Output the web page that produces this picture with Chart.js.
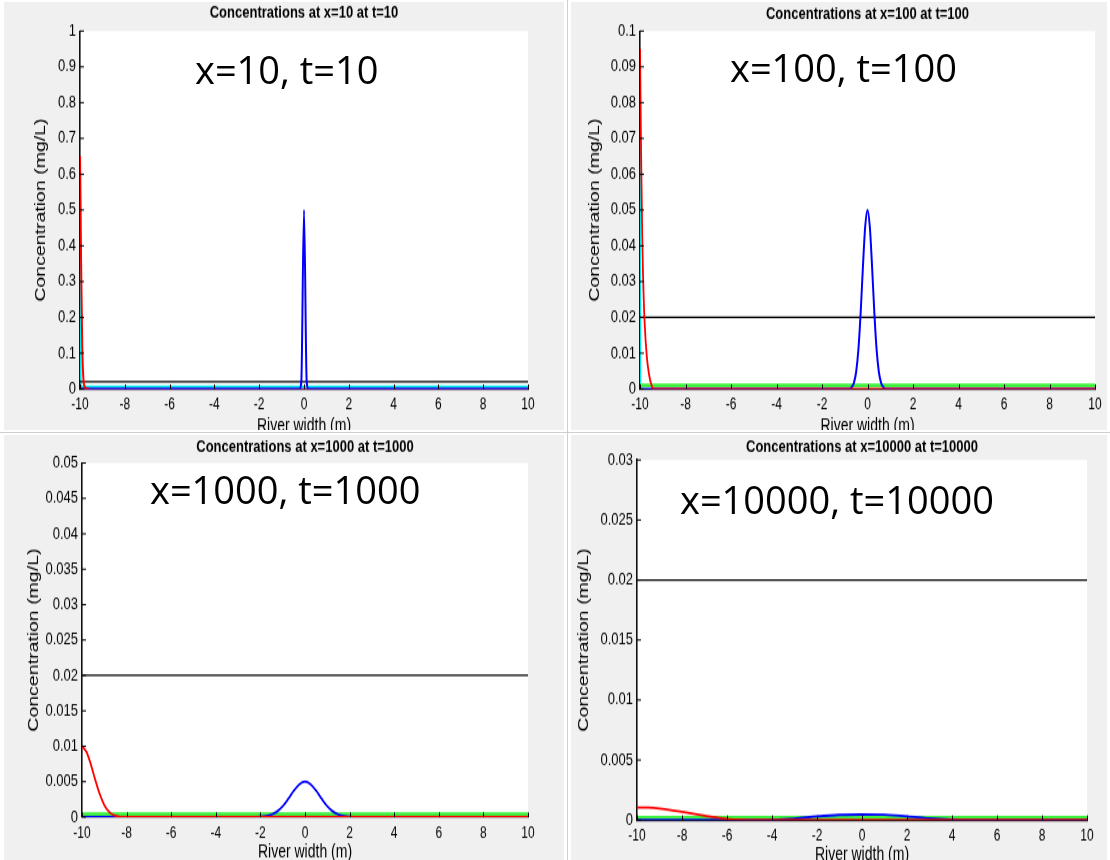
<!DOCTYPE html>
<html>
<head>
<meta charset="utf-8">
<script src="https://cdn.jsdelivr.net/npm/chart.js@4"></script>
<style>
  body { margin: 0; width: 1110px; height: 860px; background: #fff; position: relative; overflow: hidden; }
  .fig { position: absolute; background: #f0f0f0; overflow: hidden; }
  .fig canvas { position: absolute; left: 0; top: 0; transform-origin: 0 0; }
  .note { position: absolute; font-family: "Open Sans", sans-serif; font-size: 38px; line-height: 38px; color: #000; white-space: nowrap; }
  .vsep { position: absolute; left: 567px; top: 0; width: 1px; height: 860px; background: #cfcfcf; }
  .hsep { position: absolute; left: 0; top: 432px; width: 1110px; height: 1px; background: #cfcfcf; }
</style>
</head>
<body>
<div class="vsep"></div>
<div class="hsep"></div>
<div class="fig" id="figA"><canvas id="chartA"></canvas></div>
<div class="fig" id="figB"><canvas id="chartB"></canvas></div>
<div class="fig" id="figC"><canvas id="chartC"></canvas></div>
<div class="fig" id="figD"><canvas id="chartD"></canvas></div>
<div class="note" id="noteA"></div>
<div class="note" id="noteB"></div>
<div class="note" id="noteC"></div>
<div class="note" id="noteD"></div>
<script>
// ---- data ----
const xTicks = [-10, -8, -6, -4, -2, 0, 2, 4, 6, 8, 10];
const yTicksA = [0, 0.1, 0.2, 0.3, 0.4, 0.5, 0.6, 0.7, 0.8, 0.9, 1];
const yTicksB = [0, 0.01, 0.02, 0.03, 0.04, 0.05, 0.06, 0.07, 0.08, 0.09, 0.1];
const yTicksC = [0, 0.005, 0.01, 0.015, 0.02, 0.025, 0.03, 0.035, 0.04, 0.045, 0.05];
const yTicksD = [0, 0.005, 0.01, 0.015, 0.02, 0.025, 0.03];

const titles = [
  "Concentrations at x=10 at t=10",
  "Concentrations at x=100 at t=100",
  "Concentrations at x=1000 at t=1000",
  "Concentrations at x=10000 at t=10000"
];
const notes = ["x=10, t=10", "x=100, t=100", "x=1000, t=1000", "x=10000, t=10000"];
const xLabel = "River width (m)";
const yLabel = "Concentration (mg/L)";

// black standard line
const limitX = [-10, 10];
const limitY = [0.02, 0.02];

// x=10, t=10
const redXA = [-10, -9.95, -9.9, -9.85, -9.8, -9.7, -9.6];
const redYA = [0.65, 0.35, 0.12, 0.03, 0.008, 0.001, 0];
const blueXA = [-10, -0.2, -0.12, 0, 0.12, 0.2, 10];
const blueYA = [0, 0, 0.02, 0.5, 0.02, 0, 0];
const cyanXA = [-10, -9.97, 10];
const cyanYA = [0.6, 0.006, 0.006];
const magentaXA = [-10, 10];
const magentaYA = [0, 0];

// x=100, t=100
const redXB = [-10, -9.95, -9.9, -9.85, -9.8, -9.7, -9.6, -9.5, -9.4, 10];
const redYB = [0.095, 0.065, 0.042, 0.028, 0.019, 0.009, 0.004, 0.0012, 0, 0];
const blueXB = [-10, -0.8, -0.7, -0.6, -0.5, -0.4, -0.3, -0.2, -0.1, 0, 0.1, 0.2, 0.3, 0.4, 0.5, 0.6, 0.7, 0.8, 10];
const blueYB = [0, 0, 0.0005, 0.0017, 0.0047, 0.011, 0.0214, 0.0343, 0.0455, 0.05, 0.0455, 0.0343, 0.0214, 0.011, 0.0047, 0.0017, 0.0005, 0, 0];
const cyanXB = [-10, -9.98];
const cyanYB = [0.08, 0];
const greenXB = [-10, 10];
const greenYB = [0.001, 0.001];

// x=1000, t=1000
const redXC = [-10, -9.8, -9.6, -9.4, -9.2, -9, -8.8, -8.6, -8.4, -8.2, 10];
const redYC = [0.01, 0.0092, 0.0074, 0.0052, 0.0032, 0.0017, 0.0008, 0.0003, 0.0001, 0, 0];
const blueXC = [-10, -2.25, -2, -1.75, -1.5, -1.25, -1, -0.75, -0.5, -0.25, 0, 0.25, 0.5, 0.75, 1, 1.25, 1.5, 1.75, 2, 2.25, 10];
const blueYC = [0, 0, 0.00004, 0.00013, 0.00035, 0.00079, 0.00153, 0.00257, 0.00372, 0.00464, 0.005, 0.00464, 0.00372, 0.00257, 0.00153, 0.00079, 0.00035, 0.00013, 0.00004, 0, 0];
const greenXC = [-10, 10];
const greenYC = [0.0004, 0.0004];

// x=10000, t=10000
const redXD = [-10, -9.5, -9, -8.5, -8, -7.5, -7, -6.5, -6, -5.5, -5, -4, 10];
const redYD = [0.00105, 0.00103, 0.00095, 0.00083, 0.00068, 0.00052, 0.00037, 0.00022, 0.0001, 0.00004, 0.00001, 0, 0];
const blueXD = [-10, -5, -4, -3, -2, -1, 0, 1, 2, 3, 4, 5, 10];
const blueYD = [0, 0, 0.00002, 0.00012, 0.0003, 0.00043, 0.00046, 0.00044, 0.00032, 0.00014, 0.00003, 0, 0];
const greenXD = [-10, 10];
const greenYD = [0.0002, 0.0002];

// ---- layout (page pixels) ----
// the source figures were stretched vertically, so each canvas is drawn short and scaled in y
const STRETCH = 1.3;
const layoutA = { box: [4, 2, 560, 428], plot: [80, 31, 528, 389], titleY: 13, yTitleX: 41, xLab: 16, xTitle: 37, note: [195, 50] };
const layoutB = { box: [571, 2, 536, 428], plot: [640, 31, 1095, 389], titleY: 14, yTitleX: 595, xLab: 16, xTitle: 37, note: [730, 48] };
const layoutC = { box: [4, 435, 560, 425], plot: [82, 463, 528, 817], titleY: 447, yTitleX: 34, xLab: 16, xTitle: 36, note: [150, 470] };
const layoutD = { box: [571, 435, 536, 425], plot: [637, 460, 1087, 820], titleY: 447, yTitleX: 584, xLab: 16, xTitle: 35, note: [680, 480] };

Chart.defaults.font.family = '"Liberation Sans", Arial, sans-serif';

function line(xs, ys, color, width) {
  return {
    data: xs.map((x, i) => ({ x: x, y: ys[i] })),
    borderColor: color,
    borderWidth: width,
    showLine: true,
    pointRadius: 0,
    cubicInterpolationMode: "monotone",
    fill: false
  };
}

const plotBg = {
  id: "plotBg",
  beforeDraw(chart) {
    const { ctx, chartArea: a } = chart;
    ctx.save();
    ctx.fillStyle = "#fff";
    ctx.fillRect(a.left, a.top, a.right - a.left, a.bottom - a.top);
    ctx.restore();
  }
};

// matlab style ticks pointing into the axes
const inTicks = {
  id: "inTicks",
  afterDatasetsDraw(chart) {
    const { ctx, chartArea: a, scales } = chart;
    ctx.save();
    ctx.strokeStyle = "#000";
    ctx.lineWidth = 1;
    scales.x.ticks.forEach(t => {
      const p = Math.round(scales.x.getPixelForValue(t.value)) + 0.5;
      ctx.beginPath(); ctx.moveTo(p, a.bottom); ctx.lineTo(p, a.bottom - 3.5); ctx.stroke();
    });
    scales.y.ticks.forEach(t => {
      const p = scales.y.getPixelForValue(t.value);
      ctx.beginPath(); ctx.moveTo(a.left, p); ctx.lineTo(a.left + 4, p); ctx.stroke();
    });
    ctx.restore();
  }
};

function makePanel(key, lay, yMax, yTicks, title, note, datasets) {
  const [bx, by, bw, bh] = lay.box;
  const [pl, pt, pr, pb] = lay.plot;
  const S = STRETCH;
  const fig = document.getElementById("fig" + key);
  fig.style.left = bx + "px"; fig.style.top = by + "px";
  fig.style.width = bw + "px"; fig.style.height = bh + "px";
  const canvas = document.getElementById("chart" + key);
  const ch = Math.round(bh / S);
  canvas.width = bw; canvas.height = ch;
  canvas.style.width = bw + "px"; canvas.style.height = ch + "px";
  canvas.style.transform = "scaleY(" + (bh / ch) + ")";

  const noteEl = document.getElementById("note" + key);
  noteEl.textContent = note;
  noteEl.style.left = lay.note[0] + "px";
  noteEl.style.top = lay.note[1] + "px";

  const titlePlugin = {
    id: "panelTitle",
    afterDraw(chart) {
      const { ctx, chartArea: a } = chart;
      ctx.save();
      ctx.font = 'bold 13px "Liberation Sans", Arial, sans-serif';
      ctx.fillStyle = "#000";
      ctx.textAlign = "center";
      ctx.textBaseline = "middle";
      ctx.fillText(title, (a.left + a.right) / 2, (lay.titleY - by) / S);
      ctx.restore();
    }
  };

  return new Chart(canvas, {
    type: "scatter",
    data: { datasets: datasets },
    plugins: [plotBg, inTicks, titlePlugin],
    options: {
      animation: false,
      responsive: false,
      layout: { padding: { left: 0, top: (pt - by) / S, right: bx + bw - pr, bottom: 0 } },
      plugins: { legend: { display: false }, tooltip: { enabled: false }, title: { display: false } },
      scales: {
        x: {
          type: "linear", min: -10, max: 10,
          afterBuildTicks: s => { s.ticks = xTicks.map(v => ({ value: v })); },
          afterFit: s => { s.height = (by + bh - pb) / S; },
          grid: { display: false, drawTicks: false },
          border: { display: true, color: "#111", width: 1.3 },
          ticks: { padding: lay.xLab / S - 7.2, autoSkip: false, maxRotation: 0, color: "#000", font: { size: 12 }, callback: v => String(v) },
          title: { display: true, text: xLabel, color: "#000", font: { size: 14, lineHeight: 1 },
                   padding: { top: 0, bottom: ((by + bh) - (pb + lay.xTitle)) / S - 7 } }
        },
        y: {
          type: "linear", min: 0, max: yMax,
          afterBuildTicks: s => { s.ticks = yTicks.map(v => ({ value: v })); },
          afterFit: s => { s.width = pl - bx; },
          grid: { display: false, drawTicks: false },
          border: { display: true, color: "#111", width: 1.6 },
          ticks: { padding: 4, autoSkip: false, color: "#000", font: { size: 13 }, callback: v => String(v) },
          title: { display: true, text: yLabel, color: "#000", font: { size: 15 },
                   padding: { top: lay.yTitleX - bx - 9, bottom: 0 } }
        }
      }
    }
  });
}

const RED = "#ff0000", BLUE = "#0000ff", GREEN = "#3ef03e", BLACK = "#000000", CYAN = "#00e5e5", MAGENTA = "#ff33cc";

// first dataset is drawn on top
makePanel("A", layoutA, 1, yTicksA, titles[0], notes[0], [
  line(redXA, redYA, RED, 2),
  line(blueXA, blueYA, BLUE, 2),
  line(limitX, limitY, BLACK, 1.3),
  line(magentaXA, magentaYA, MAGENTA, 1.6),
  line(cyanXA, cyanYA, CYAN, 2.2)
]);

makePanel("B", layoutB, 0.1, yTicksB, titles[1], notes[1], [
  line(redXB, redYB, RED, 1.8),
  line(blueXB, blueYB, BLUE, 2),
  line(limitX, limitY, BLACK, 1.3),
  line(greenXB, greenYB, GREEN, 2.8),
  line(cyanXB, cyanYB, CYAN, 1.5)
]);

makePanel("C", layoutC, 0.05, yTicksC, titles[2], notes[2], [
  line(redXC, redYC, RED, 1.8),
  line(blueXC, blueYC, BLUE, 1.8),
  line(limitX, limitY, BLACK, 1.3),
  line(greenXC, greenYC, GREEN, 2.8)
]);

makePanel("D", layoutD, 0.03, yTicksD, titles[3], notes[3], [
  line(redXD, redYD, RED, 1.8),
  line(blueXD, blueYD, BLUE, 1.8),
  line(limitX, limitY, BLACK, 1.3),
  line(greenXD, greenYD, GREEN, 2.8)
]);
</script>
</body>
</html>
